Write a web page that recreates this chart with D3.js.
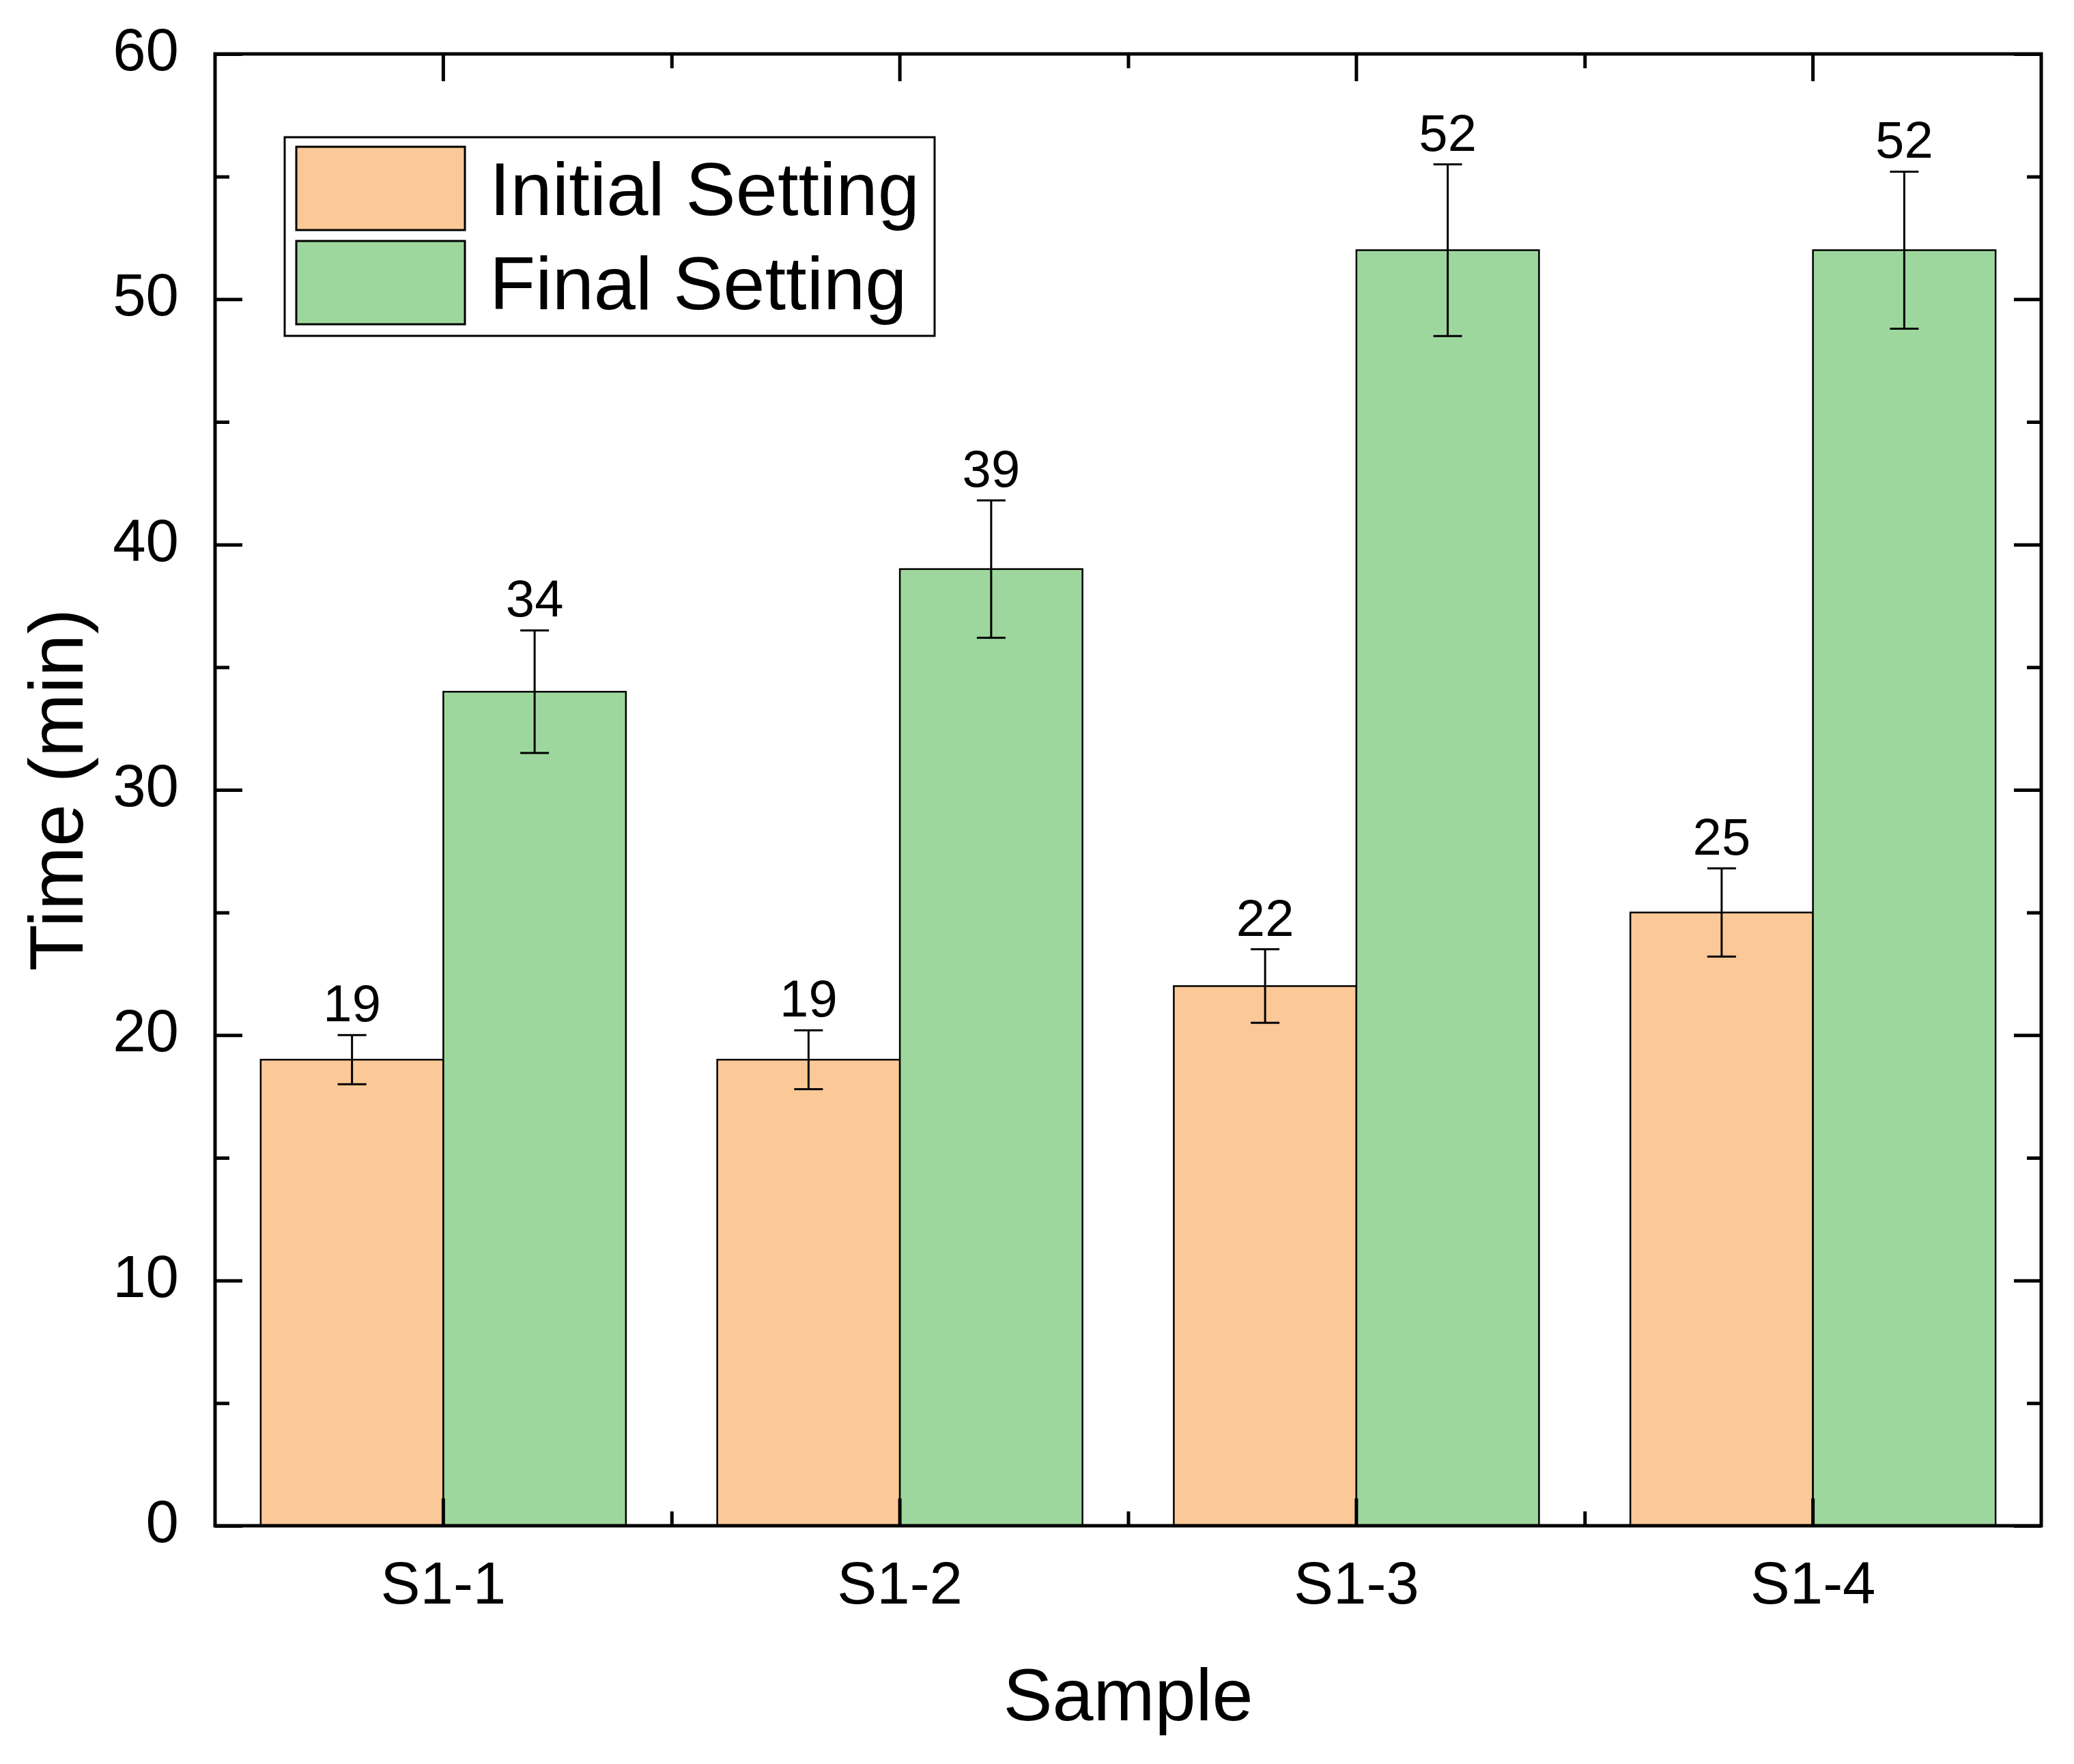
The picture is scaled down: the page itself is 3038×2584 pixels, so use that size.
<!DOCTYPE html>
<html>
<head>
<meta charset="utf-8">
<script src="https://cdn.jsdelivr.net/npm/d3@7"></script>
<style>
  html, body { margin: 0; padding: 0; background: #fff; }
  text { font-family: "Liberation Sans", Arial, sans-serif; fill: #000; }
</style>
</head>
<body>
<svg id="chart" width="3038" height="2584"></svg>
<script>
// data
var samples = ['S1-1', 'S1-2', 'S1-3', 'S1-4'];
var series = ['Initial Setting', 'Final Setting'];
var initialVals = [19, 19, 22, 25];
var finalVals = [34, 39, 52, 52];
var initialErr = [1.0, 1.2, 1.5, 1.8];
var finalErr = [2.5, 2.8, 3.5, 3.2];
var yTicks = [0, 10, 20, 30, 40, 50, 60];
var yMinor = [5, 15, 25, 35, 45, 55];
var colors = ['#fbc897', '#9ed79d'];

var svg = d3.select('#chart');
// plot box (window.top is reserved, so not "top")
var pLeft = 315, pRight = 2990, pTop = 79, pBottom = 2235;

var x = d3.scaleBand().domain(samples).range([pLeft, pRight]).padding(0);
var xs = d3.scaleBand().domain(series).range([0, x.bandwidth()]).paddingInner(0).paddingOuter(0.25);
var xl = d3.scaleLinear().domain([0, samples.length]).range([pLeft, pRight]);
var y = d3.scaleLinear().domain([0, 60]).range([pBottom, pTop]);

var rows = [];
samples.forEach(function(s, i) {
  rows.push({ sample: s, key: series[0], v: initialVals[i], e: initialErr[i], c: colors[0] });
  rows.push({ sample: s, key: series[1], v: finalVals[i], e: finalErr[i], c: colors[1] });
});

// bars
svg.append('g').attr('class', 'bars')
  .selectAll('rect').data(rows).enter().append('rect')
  .attr('x', function(d) { return x(d.sample) + xs(d.key); })
  .attr('width', xs.bandwidth())
  .attr('y', function(d) { return y(d.v); })
  .attr('height', function(d) { return y(0) - y(d.v); })
  .attr('fill', function(d) { return d.c; })
  .attr('stroke', '#000')
  .attr('stroke-width', 2.5);

// error bars
var eb = svg.append('g').attr('class', 'err')
  .selectAll('g').data(rows).enter().append('g')
  .attr('transform', function(d) { return 'translate(' + (x(d.sample) + xs(d.key) + xs.bandwidth() / 2) + ',0)'; });
eb.append('line')
  .attr('y1', function(d) { return y(d.v + d.e); })
  .attr('y2', function(d) { return y(d.v - d.e); })
  .attr('stroke', '#000').attr('stroke-width', 3);
eb.append('line')
  .attr('x1', -21).attr('x2', 21)
  .attr('y1', function(d) { return y(d.v + d.e); })
  .attr('y2', function(d) { return y(d.v + d.e); })
  .attr('stroke', '#000').attr('stroke-width', 3);
eb.append('line')
  .attr('x1', -21).attr('x2', 21)
  .attr('y1', function(d) { return y(d.v - d.e); })
  .attr('y2', function(d) { return y(d.v - d.e); })
  .attr('stroke', '#000').attr('stroke-width', 3);
eb.append('text')
  .attr('y', function(d) { return y(d.v + d.e) - 20; })
  .attr('text-anchor', 'middle')
  .attr('font-size', 76)
  .text(function(d) { return d.v; });

// axes
function styleAxis(g) {
  g.select('.domain').remove();
  g.selectAll('.tick line').attr('stroke', '#000').attr('stroke-width', 5);
  g.selectAll('.tick text').attr('font-size', 87).attr('fill', '#000')
    .attr('font-family', '"Liberation Sans", Arial, sans-serif');
}

svg.append('g').attr('transform', 'translate(' + pLeft + ',0)')
  .call(d3.axisLeft(y).tickValues(yTicks).tickSize(-40).tickPadding(53))
  .call(styleAxis)
  .selectAll('.tick text').attr('dy', '0.27em');
svg.append('g').attr('transform', 'translate(' + pLeft + ',0)')
  .call(d3.axisLeft(y).tickValues(yMinor).tickSize(-21).tickFormat(''))
  .call(styleAxis);
svg.append('g').attr('transform', 'translate(' + pRight + ',0)')
  .call(d3.axisRight(y).tickValues(yTicks).tickSize(-40).tickFormat(''))
  .call(styleAxis);
svg.append('g').attr('transform', 'translate(' + pRight + ',0)')
  .call(d3.axisRight(y).tickValues(yMinor).tickSize(-21).tickFormat(''))
  .call(styleAxis);

svg.append('g').attr('transform', 'translate(0,' + pBottom + ')')
  .call(d3.axisBottom(x).tickSize(-40).tickPadding(52))
  .call(styleAxis);
svg.append('g').attr('transform', 'translate(0,' + pBottom + ')')
  .call(d3.axisBottom(xl).tickValues([1, 2, 3]).tickSize(-21).tickFormat(''))
  .call(styleAxis);
svg.append('g').attr('transform', 'translate(0,' + pTop + ')')
  .call(d3.axisTop(x).tickSize(-40).tickFormat(''))
  .call(styleAxis);
svg.append('g').attr('transform', 'translate(0,' + pTop + ')')
  .call(d3.axisTop(xl).tickValues([1, 2, 3]).tickSize(-21).tickFormat(''))
  .call(styleAxis);

// frame
svg.append('rect')
  .attr('x', pLeft).attr('y', pTop)
  .attr('width', pRight - pLeft).attr('height', pBottom - pTop)
  .attr('fill', 'none').attr('stroke', '#000').attr('stroke-width', 5);

// axis titles
svg.append('text')
  .attr('x', (pLeft + pRight) / 2).attr('y', 2520)
  .attr('text-anchor', 'middle').attr('font-size', 108)
  .text('Sample');
svg.append('text')
  .attr('transform', 'translate(121,' + ((pTop + pBottom) / 2) + ') rotate(-90)')
  .attr('text-anchor', 'middle').attr('font-size', 112)
  .text('Time (min)');

// legend
var lg = svg.append('g').attr('class', 'legend');
lg.append('rect')
  .attr('x', 417).attr('y', 201).attr('width', 952).attr('height', 291)
  .attr('fill', '#fff').attr('stroke', '#000').attr('stroke-width', 3);
series.forEach(function(s, i) {
  var yy = 215 + i * 138;
  lg.append('rect')
    .attr('x', 434).attr('y', yy).attr('width', 247).attr('height', 122)
    .attr('fill', colors[i]).attr('stroke', '#000').attr('stroke-width', 3);
  lg.append('text')
    .attr('x', 717).attr('y', yy + 100)
    .attr('font-size', 110)
    .text(s);
});
</script>
</body>
</html>
